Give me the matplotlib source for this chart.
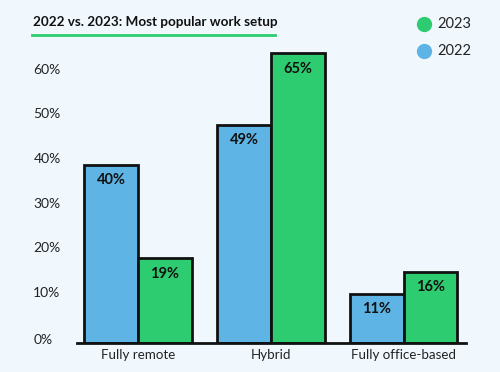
import numpy as np
import matplotlib.pyplot as plt
from matplotlib.lines import Line2D

plt.rcParams['font.family'] = ['Lato', 'DejaVu Sans']

categories = ["Fully remote", "Hybrid", "Fully office-based"]
vals_2022 = [40, 49, 11]
vals_2023 = [19, 65, 16]
yticks = [0, 10, 20, 30, 40, 50, 60]

bg = "#f0f8fe"
blue = "#5db4e5"
green = "#2ecc71"

fig = plt.figure(figsize=(5, 3.72), dpi=100, facecolor=bg)
ax = fig.add_axes([0.154, 0.078, 0.778, 0.839])
ax.set_facecolor(bg)

x = np.arange(len(categories))
w = 0.405
b1 = ax.bar(x - w / 2, vals_2022, w, color=blue, edgecolor="#111111", linewidth=2)
b2 = ax.bar(x + w / 2, vals_2023, w, color=green, edgecolor="#111111", linewidth=2)

for bars, vals in [(b1, vals_2022), (b2, vals_2023)]:
    for r, v in zip(bars, vals):
        ax.annotate(f"{v}%", (r.get_x() + r.get_width() / 2, v), xytext=(0, -6),
                    textcoords="offset points", ha="center", va="top",
                    fontsize=10.5, fontweight="bold", color="#111111")

ax.set_xlim(-0.46, 2.47)
ax.set_ylim(0, 70)
for s in ["top", "right", "left"]:
    ax.spines[s].set_visible(False)
ax.spines["bottom"].set_linewidth(2)
ax.spines["bottom"].set_color("#111111")

ax.set_xticks(x)
ax.set_xticklabels(categories, fontsize=9.6, color="#222222")
ax.tick_params(axis="x", length=0, pad=4)
ax.set_yticks([])

# y labels sit a little above their level, at the left edge of the figure
for t in yticks:
    dy = 2 if t == 0 else 4
    ax.annotate(f"{t}%", (0, t), xycoords=("figure fraction", "data"),
                xytext=(24, dy), textcoords="offset points",
                ha="left", va="center", fontsize=10, color="#222222")

fig.text(0.066, 0.94, "2022 vs. 2023: Most popular work setup", fontsize=9.7,
         fontweight="bold", color="#111111", ha="left", va="center")
fig.add_artist(Line2D([0.064, 0.55], [0.905, 0.905], color=green, linewidth=2))

for y, c, lab in [(0.935, green, "2023"), (0.862, blue, "2022")]:
    fig.add_artist(Line2D([0.848], [y], marker="o", markersize=10, color=c, linestyle="none"))
    fig.text(0.875, y, lab, fontsize=10.5, color="#222222", ha="left", va="center")

fig.savefig("out.png", dpi=100, facecolor=bg)
